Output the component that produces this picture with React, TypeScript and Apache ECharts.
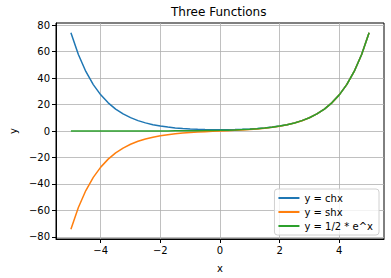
import React, { useEffect, useRef } from "react";
import * as echarts from "echarts";

const xValues = [
  -5, -4.75, -4.5, -4.25, -4, -3.75, -3.5, -3.25, -3, -2.75, -2.5, -2.25, -2, -1.75, -1.5, -1.25, -1, -0.75, -0.5, -0.25,
  0, 0.25, 0.5, 0.75, 1, 1.25, 1.5, 1.75, 2, 2.25, 2.5, 2.75, 3, 3.25, 3.5, 3.75, 4, 4.25, 4.5, 4.75, 5,
];

const chValues = [
  74.21, 57.8, 45.01, 35.06, 27.31, 21.27, 16.57, 12.91, 10.07, 7.85, 6.13, 4.8, 3.76, 2.96, 2.35, 1.89, 1.54, 1.29, 1.13, 1.03,
  1, 1.03, 1.13, 1.29, 1.54, 1.89, 2.35, 2.96, 3.76, 4.8, 6.13, 7.85, 10.07, 12.91, 16.57, 21.27, 27.31, 35.06, 45.01, 57.8, 74.21,
];

const shValues = [
  -74.2, -57.79, -45.0, -35.05, -27.29, -21.25, -16.54, -12.88, -10.02, -7.79, -6.05, -4.69, -3.63, -2.79, -2.13, -1.6, -1.18, -0.82, -0.52, -0.25,
  0, 0.25, 0.52, 0.82, 1.18, 1.6, 2.13, 2.79, 3.63, 4.69, 6.05, 7.79, 10.02, 12.88, 16.54, 21.25, 27.29, 35.05, 45.0, 57.79, 74.2,
];

const halfExpValues = [
  0.0034, 0.0043, 0.0056, 0.0071, 0.0092, 0.0118, 0.0151, 0.0194, 0.0249, 0.032, 0.041, 0.0527, 0.0677, 0.0869, 0.1116, 0.1433, 0.1839, 0.2362, 0.3033, 0.3894,
  0.5, 0.642, 0.8244, 1.0585, 1.3591, 1.7452, 2.2408, 2.8773, 3.6945, 4.7439, 6.0912, 7.8213, 10.0428, 12.8952, 16.5577, 21.2605, 27.2991, 35.0527, 45.0086, 57.7921, 74.2066,
];

const seriesNames = ["y = chx", "y = shx", "y = 1/2 * e^x"];
const seriesColors = ["#1f77b4", "#ff7f0e", "#2ca02c"];
const xTicks = [-4, -2, 0, 2, 4];
const yTicks = [-80, -60, -40, -20, 0, 20, 40, 60, 80];

const FONT = "DejaVu Sans";

function fmt(v: number) {
  return String(v).replace("-", "\u2212");
}

export default function App() {
  const ref = useRef<HTMLDivElement>(null);
  useEffect(() => {
    document.body.style.margin = "0";
    const chart = echarts.init(ref.current!, null, { renderer: "svg" });
    const allSeries = [chValues, shValues, halfExpValues];
    chart.setOption({
      animation: false,
      backgroundColor: "#fff",
      textStyle: { fontFamily: FONT },
      title: {
        text: "Three Functions",
        left: 166,
        top: 1,
        textStyle: { fontFamily: FONT, fontSize: 12, fontWeight: "normal", color: "#000" },
      },
      grid: {
        left: 50,
        right: 7,
        top: 23,
        bottom: 39,
        show: true,
        borderColor: "#000",
        borderWidth: 1,
        backgroundColor: "transparent",
      },
      legend: {
        orient: "vertical",
        right: 12,
        bottom: 43,
        data: seriesNames,
        icon: "rect",
        itemWidth: 21,
        itemHeight: 2,
        itemGap: 4,
        padding: [4, 6, 4, 4],
        backgroundColor: "rgba(255,255,255,0.8)",
        borderColor: "#d0d0d0",
        borderWidth: 1,
        borderRadius: 3,
        textStyle: { fontFamily: FONT, fontSize: 10, color: "#000" },
      },
      xAxis: {
        type: "value",
        min: -5.5,
        max: 5.5,
        name: "x",
        nameLocation: "middle",
        nameGap: 24,
        nameTextStyle: { fontFamily: FONT, fontSize: 10, color: "#000" },
        axisLine: { onZero: false, lineStyle: { color: "#000", width: 1 } },
        axisTick: { show: true, length: 4, customValues: xTicks, lineStyle: { color: "#000" } },
        axisLabel: {
          customValues: xTicks,
          margin: 6,
          fontFamily: FONT,
          fontSize: 10,
          color: "#000",
          formatter: (v: number) => fmt(v),
        },
        splitLine: { show: true, customValues: xTicks, lineStyle: { color: "#b0b0b0", width: 0.8 } },
      },
      yAxis: {
        type: "value",
        min: -81.6,
        max: 81.6,
        name: "y",
        nameLocation: "middle",
        nameGap: 36,
        nameTextStyle: { fontFamily: FONT, fontSize: 10, color: "#000" },
        axisLine: { show: true, onZero: false, lineStyle: { color: "#000", width: 1 } },
        axisTick: { show: true, length: 4, customValues: yTicks, lineStyle: { color: "#000" } },
        axisLabel: {
          customValues: yTicks,
          margin: 6,
          fontFamily: FONT,
          fontSize: 10,
          color: "#000",
          formatter: (v: number) => fmt(v),
        },
        splitLine: { show: true, customValues: yTicks, lineStyle: { color: "#b0b0b0", width: 0.8 } },
      },
      series: allSeries.map((vals, i) => ({
        name: seriesNames[i],
        type: "line",
        data: xValues.map((x, j) => [x, vals[j]]),
        showSymbol: false,
        symbol: "none",
        smooth: false,
        color: seriesColors[i],
        lineStyle: { width: 1.5, color: seriesColors[i] },
        z: 2 + i,
      })),
    });
    return () => chart.dispose();
  }, []);
  return <div ref={ref} style={{ width: 391, height: 278, position: "absolute", left: 0, top: 0 }} />;
}
